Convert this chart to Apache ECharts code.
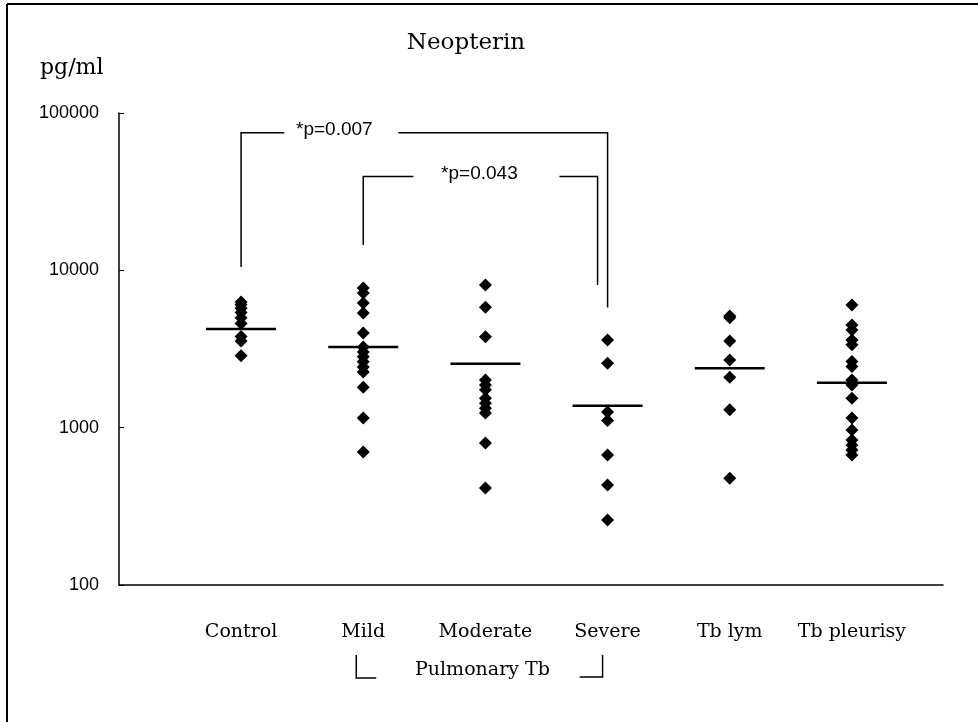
<!DOCTYPE html>
<html>
<head>
<meta charset="utf-8">
<script src="https://cdn.jsdelivr.net/npm/echarts@6/dist/echarts.min.js"></script>
<style>html,body{margin:0;padding:0;background:#fff;}#c{width:978px;height:722px;}</style>
</head>
<body>
<div id="c"></div>
<script>
const categories = ['Control', 'Mild', 'Moderate', 'Severe', 'Tb lym', 'Tb pleurisy'];
const control = [6300, 6050, 5750, 5400, 5000, 4600, 3800, 3550, 2860];
const mild = [7730, 7180, 6210, 5360, 4000, 3260, 3030, 2820, 2620, 2430, 2260, 1810, 1150, 700];
const moderate = [8070, 5820, 3780, 2010, 1870, 1740, 1540, 1430, 1330, 1240, 800, 413];
const severe = [3610, 2570, 1260, 1110, 670, 432, 259];
const tbLym = [5130, 5000, 3560, 2690, 2090, 1300, 477];
const tbPleurisy = [6030, 4500, 4180, 3610, 3360, 2630, 2450, 2010, 1930, 1870, 1540, 1150, 967, 835, 776, 721, 670];
const medians = [4240, 3260, 2550, 1380, 2390, 1930];
const yTicks = [100, 1000, 10000, 100000];
const pValues = ['*p=0.007', '*p=0.043'];

const groups = [control, mild, moderate, severe, tbLym, tbPleurisy];
const points = [];
groups.forEach((arr, i) => arr.forEach(v => points.push([i, v])));
const medianData = medians.map((v, i) => [i, v]);

const chart = echarts.init(document.getElementById('c'));
const serif = 'DejaVu Serif';
chart.setOption({
  animation: false,
  backgroundColor: '#fff',
  grid: [
    {left: 119, top: 113, width: 824, height: 472},
    {left: 180, top: 113, width: 733, height: 472}
  ],
  xAxis: [
    {gridIndex: 0, type: 'value', min: 0, max: 1, axisLabel: {show: false}, axisTick: {show: false}, splitLine: {show: false},
      axisLine: {lineStyle: {color: '#000', width: 1.5}}},
    {gridIndex: 1, type: 'category', data: categories, axisLine: {show: false}, axisTick: {show: false},
      axisLabel: {interval: 0, margin: 38, color: '#000', fontFamily: serif, fontSize: 19}}
  ],
  yAxis: [
    {gridIndex: 0, type: 'log', logBase: 10, min: 100, max: 100000, splitLine: {show: false},
      axisLine: {show: true, lineStyle: {color: '#000', width: 1.5}},
      axisTick: {show: true, inside: true, length: 5, lineStyle: {color: '#000'}},
      axisLabel: {margin: 20, color: '#000', fontFamily: 'Liberation Sans', fontSize: 18,
        formatter: v => (yTicks.indexOf(Math.round(v)) >= 0 ? String(Math.round(v)) : '')}},
    {gridIndex: 1, type: 'log', logBase: 10, min: 100, max: 100000, show: false}
  ],
  series: [
    {type: 'scatter', xAxisIndex: 1, yAxisIndex: 1, data: points, symbol: 'diamond', symbolSize: 13,
      itemStyle: {color: '#000', opacity: 1}},
    {type: 'scatter', xAxisIndex: 1, yAxisIndex: 1, data: medianData, symbol: 'rect', symbolSize: [70, 2.5],
      itemStyle: {color: '#000', opacity: 1}, z: 3}
  ]
});

function px(cat, v) { return chart.convertToPixel({xAxisIndex: 1, yAxisIndex: 1}, [cat, v]); }
const ln = (pts) => ({type: 'polyline', shape: {points: pts}, style: {stroke: '#000', lineWidth: 1.5, fill: null}});
const txt = (x, y, s, font, size, align) => ({type: 'text', x: x, y: y,
  style: {text: s, fill: '#000', font: size + 'px "' + font + '"', textAlign: align || 'center', textVerticalAlign: 'middle'}});

const c0 = px(0, 75000), s0 = px(3, 75000);
const cBot = px(0, 10500), sBot = px(3, 5800);
const m1 = px(1, 39500), s1 = px(3, 39500);
const mBot = px(1, 14500), s1Bot = px(3, 8070);
const mildX = px(1, 100)[0], sevX = px(3, 100)[0], modX = px(2, 100)[0];
const axisY = px(0, 100)[1];
const t1x = (c0[0] + s0[0]) / 2 - 90, t2x = (m1[0] + s1[0]) / 2 - 6;

chart.setOption({
  graphic: [
    {type: 'line', shape: {x1: 7, y1: 4, x2: 978, y2: 4}, style: {stroke: '#000', lineWidth: 2}},
    {type: 'line', shape: {x1: 7, y1: 4, x2: 7, y2: 722}, style: {stroke: '#000', lineWidth: 2}},
    txt(466, 43, 'Neopterin', serif, 23),
    txt(40, 68, 'pg/ml', serif, 22, 'left'),
    ln([[cBot[0], cBot[1]], [c0[0], c0[1]], [t1x - 50, c0[1]]]),
    ln([[t1x + 64, c0[1]], [s0[0], s0[1]], [sBot[0], sBot[1]]]),
    txt(t1x, c0[1] - 3, pValues[0], 'Liberation Sans', 19),
    ln([[mBot[0], mBot[1]], [m1[0], m1[1]], [t2x - 66, m1[1]]]),
    ln([[t2x + 80, m1[1]], [s1[0] - 10, s1[1]], [s1Bot[0] - 10, s1Bot[1]]]),
    txt(t2x, m1[1] - 3, pValues[1], 'Liberation Sans', 19),
    ln([[mildX - 7, axisY + 70], [mildX - 7, axisY + 93], [mildX + 13, axisY + 93]]),
    ln([[sevX - 28, axisY + 92], [sevX - 5, axisY + 92], [sevX - 5, axisY + 70]]),
    txt(modX - 3, axisY + 85, 'Pulmonary Tb', serif, 19)
  ]
});
</script>
</body>
</html>
